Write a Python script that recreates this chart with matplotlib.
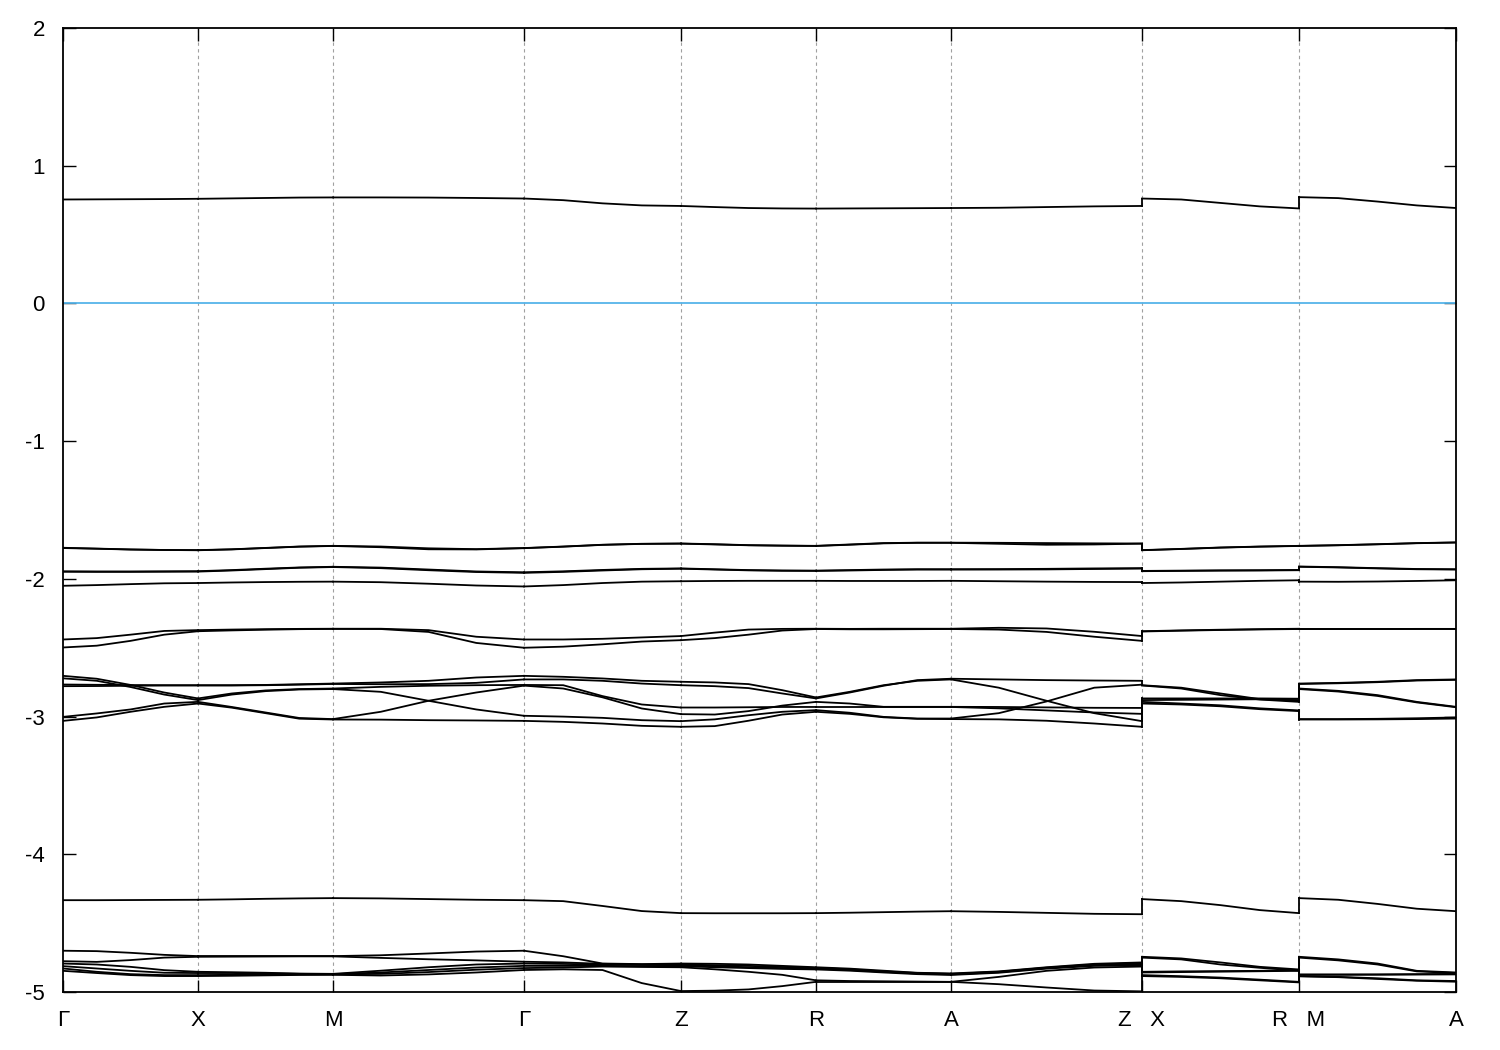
import numpy as np
import matplotlib
matplotlib.use("Agg")
import matplotlib.pyplot as plt

# ---------------- data ----------------
tick_labels = ["Γ", "X", "M", "Γ", "Z", "R", "A", "Z   X", "R   M", "A"]
segment_names = [("Γ", "X"), ("X", "M"), ("M", "Γ"), ("Γ", "Z"), ("Z", "R"),
                 ("R", "A"), ("A", "Z"), ("X", "R"), ("M", "A")]
segment_lengths = [1.0, 1.0, 1.41421, 1.163, 1.0, 1.0, 1.41421, 1.163, 1.163]
jump_nodes = [7, 8]          # Z|X and R|M discontinuities (segment index after the jump)
fermi_level = 0.0

# each segment: rows = bands, 5 samples along the segment (start .. end)
seg_GX = [
    [0.755, 0.756, 0.757, 0.758, 0.760],
    [-1.774, -1.780, -1.786, -1.790, -1.791],
    [-1.776, -1.781, -1.787, -1.790, -1.792],
    [-1.945, -1.946, -1.946, -1.945, -1.944],
    [-1.948, -1.949, -1.949, -1.948, -1.947],
    [-2.050, -2.045, -2.038, -2.032, -2.030],
    [-2.440, -2.430, -2.405, -2.378, -2.372],
    [-2.498, -2.485, -2.450, -2.405, -2.380],
    [-2.704, -2.725, -2.770, -2.825, -2.868],
    [-2.722, -2.740, -2.785, -2.840, -2.880],
    [-2.767, -2.769, -2.771, -2.772, -2.772],
    [-2.779, -2.778, -2.776, -2.774, -2.774],
    [-3.002, -2.977, -2.948, -2.905, -2.893],
    [-3.031, -3.006, -2.965, -2.929, -2.905],
    [-4.333, -4.333, -4.332, -4.331, -4.330],
    [-4.700, -4.703, -4.715, -4.730, -4.739],
    [-4.776, -4.781, -4.768, -4.750, -4.744],
    [-4.793, -4.800, -4.817, -4.841, -4.853],
    [-4.812, -4.829, -4.846, -4.860, -4.862],
    [-4.829, -4.853, -4.870, -4.877, -4.877],
    [-4.846, -4.862, -4.877, -4.884, -4.884],
]
seg_XM = [
    [0.760, 0.763, 0.766, 0.769, 0.770],
    [-1.791, -1.785, -1.775, -1.765, -1.760],
    [-1.792, -1.786, -1.776, -1.766, -1.761],
    [-1.944, -1.936, -1.926, -1.917, -1.912],
    [-1.947, -1.939, -1.929, -1.919, -1.914],
    [-2.030, -2.026, -2.023, -2.021, -2.020],
    [-2.372, -2.368, -2.365, -2.363, -2.362],
    [-2.380, -2.374, -2.369, -2.365, -2.363],
    [-2.868, -2.832, -2.810, -2.800, -2.796],
    [-2.880, -2.840, -2.815, -2.803, -2.800],
    [-2.772, -2.772, -2.770, -2.765, -2.760],
    [-2.774, -2.774, -2.772, -2.768, -2.763],
    [-2.893, -2.930, -2.970, -3.010, -3.018],
    [-2.905, -2.935, -2.975, -3.015, -3.021],
    [-4.330, -4.327, -4.323, -4.320, -4.318],
    [-4.739, -4.739, -4.739, -4.739, -4.739],
    [-4.744, -4.743, -4.742, -4.741, -4.741],
    [-4.853, -4.856, -4.860, -4.866, -4.868],
    [-4.862, -4.862, -4.865, -4.868, -4.870],
    [-4.877, -4.875, -4.873, -4.872, -4.872],
    [-4.884, -4.882, -4.879, -4.876, -4.875],
]
seg_MG = [
    [0.770, 0.770, 0.769, 0.766, 0.762],
    [-1.760, -1.765, -1.778, -1.784, -1.776],
    [-1.761, -1.770, -1.785, -1.786, -1.777],
    [-1.912, -1.918, -1.932, -1.946, -1.952],
    [-1.914, -1.922, -1.937, -1.950, -1.956],
    [-2.020, -2.024, -2.035, -2.048, -2.055],
    [-2.362, -2.362, -2.372, -2.420, -2.440],
    [-2.363, -2.364, -2.385, -2.465, -2.500],
    [-2.760, -2.752, -2.740, -2.716, -2.704],
    [-2.763, -2.765, -2.764, -2.755, -2.730],
    [-2.796, -2.784, -2.776, -2.772, -2.770],
    [-2.800, -2.820, -2.885, -2.948, -2.994],
    [-3.018, -2.965, -2.885, -2.825, -2.775],
    [-3.021, -3.022, -3.026, -3.028, -3.031],
    [-4.318, -4.320, -4.325, -4.330, -4.333],
    [-4.739, -4.733, -4.720, -4.706, -4.700],
    [-4.741, -4.752, -4.762, -4.770, -4.780],
    [-4.868, -4.845, -4.820, -4.800, -4.793],
    [-4.870, -4.858, -4.840, -4.822, -4.810],
    [-4.872, -4.868, -4.855, -4.838, -4.826],
    [-4.875, -4.880, -4.872, -4.858, -4.840],
]
seg_GZ = [
    [0.762, 0.750, 0.727, 0.712, 0.708],
    [-1.776, -1.765, -1.752, -1.745, -1.743],
    [-1.777, -1.766, -1.753, -1.746, -1.744],
    [-1.952, -1.945, -1.935, -1.927, -1.924],
    [-1.956, -1.949, -1.939, -1.930, -1.926],
    [-2.055, -2.045, -2.030, -2.020, -2.017],
    [-2.440, -2.440, -2.435, -2.425, -2.415],
    [-2.500, -2.492, -2.475, -2.455, -2.445],
    [-2.704, -2.711, -2.723, -2.740, -2.747],
    [-2.730, -2.730, -2.740, -2.760, -2.772],
    [-2.770, -2.772, -2.851, -2.912, -2.934],
    [-2.775, -2.796, -2.860, -2.941, -2.982],
    [-2.994, -3.000, -3.009, -3.026, -3.033],
    [-3.031, -3.038, -3.050, -3.067, -3.074],
    [-4.333, -4.340, -4.375, -4.412, -4.427],
    [-4.700, -4.740, -4.793, -4.797, -4.793],
    [-4.780, -4.785, -4.795, -4.800, -4.800],
    [-4.793, -4.796, -4.800, -4.803, -4.805],
    [-4.810, -4.810, -4.810, -4.812, -4.812],
    [-4.826, -4.822, -4.815, -4.818, -4.820],
    [-4.840, -4.835, -4.840, -4.935, -4.993],
]
seg_ZR = [
    [0.708, 0.700, 0.693, 0.690, 0.689],
    [-1.743, -1.748, -1.755, -1.758, -1.760],
    [-1.744, -1.750, -1.756, -1.759, -1.761],
    [-1.924, -1.930, -1.936, -1.939, -1.940],
    [-1.926, -1.932, -1.938, -1.941, -1.942],
    [-2.017, -2.015, -2.014, -2.014, -2.014],
    [-2.415, -2.390, -2.368, -2.363, -2.362],
    [-2.445, -2.430, -2.405, -2.375, -2.364],
    [-2.747, -2.752, -2.764, -2.808, -2.861],
    [-2.772, -2.779, -2.793, -2.832, -2.868],
    [-2.934, -2.934, -2.932, -2.930, -2.930],
    [-2.982, -2.985, -2.960, -2.920, -2.893],
    [-3.033, -3.020, -2.990, -2.965, -2.953],
    [-3.074, -3.069, -3.030, -2.985, -2.965],
    [-4.427, -4.428, -4.428, -4.428, -4.427],
    [-4.793, -4.795, -4.800, -4.810, -4.820],
    [-4.800, -4.805, -4.810, -4.818, -4.825],
    [-4.805, -4.812, -4.820, -4.826, -4.830],
    [-4.812, -4.820, -4.826, -4.832, -4.836],
    [-4.820, -4.835, -4.853, -4.875, -4.915],
    [-4.993, -4.990, -4.981, -4.957, -4.926],
]
seg_RA = [
    [0.689, 0.690, 0.691, 0.692, 0.693],
    [-1.760, -1.750, -1.740, -1.737, -1.737],
    [-1.761, -1.752, -1.742, -1.738, -1.738],
    [-1.940, -1.936, -1.932, -1.930, -1.930],
    [-1.942, -1.939, -1.935, -1.932, -1.932],
    [-2.014, -2.015, -2.015, -2.015, -2.014],
    [-2.362, -2.363, -2.362, -2.362, -2.362],
    [-2.364, -2.366, -2.366, -2.365, -2.364],
    [-2.861, -2.820, -2.772, -2.740, -2.730],
    [-2.868, -2.825, -2.776, -2.735, -2.725],
    [-2.893, -2.905, -2.929, -2.929, -2.929],
    [-2.930, -2.930, -2.930, -2.930, -2.930],
    [-2.953, -2.972, -3.002, -3.014, -3.014],
    [-2.965, -2.980, -3.005, -3.016, -3.018],
    [-4.427, -4.424, -4.420, -4.416, -4.413],
    [-4.820, -4.830, -4.845, -4.860, -4.865],
    [-4.825, -4.835, -4.850, -4.862, -4.868],
    [-4.830, -4.840, -4.853, -4.866, -4.872],
    [-4.836, -4.845, -4.858, -4.870, -4.876],
    [-4.915, -4.920, -4.922, -4.924, -4.926],
    [-4.926, -4.926, -4.926, -4.926, -4.926],
]
seg_AZ = [
    [0.693, 0.695, 0.700, 0.705, 0.708],
    [-1.737, -1.738, -1.740, -1.742, -1.743],
    [-1.738, -1.745, -1.752, -1.750, -1.744],
    [-1.930, -1.929, -1.927, -1.924, -1.922],
    [-1.932, -1.932, -1.931, -1.928, -1.925],
    [-2.014, -2.017, -2.020, -2.022, -2.023],
    [-2.362, -2.355, -2.360, -2.384, -2.415],
    [-2.364, -2.368, -2.385, -2.420, -2.450],
    [-2.725, -2.730, -2.735, -2.738, -2.740],
    [-2.730, -2.790, -2.885, -2.975, -3.033],
    [-2.929, -2.930, -2.933, -2.936, -2.937],
    [-2.930, -2.940, -2.955, -2.970, -2.980],
    [-3.014, -2.975, -2.890, -2.790, -2.768],
    [-3.018, -3.020, -3.030, -3.050, -3.074],
    [-4.413, -4.418, -4.425, -4.432, -4.435],
    [-4.865, -4.850, -4.820, -4.795, -4.785],
    [-4.868, -4.853, -4.823, -4.800, -4.790],
    [-4.872, -4.856, -4.826, -4.805, -4.800],
    [-4.876, -4.860, -4.830, -4.810, -4.805],
    [-4.926, -4.943, -4.967, -4.989, -4.995],
    [-4.926, -4.890, -4.846, -4.822, -4.815],
]
seg_XR = [
    [0.762, 0.755, 0.730, 0.705, 0.690],
    [-1.791, -1.782, -1.772, -1.765, -1.760],
    [-1.792, -1.783, -1.773, -1.766, -1.761],
    [-1.942, -1.940, -1.938, -1.937, -1.935],
    [-1.944, -1.942, -1.940, -1.939, -1.937],
    [-2.030, -2.026, -2.020, -2.014, -2.010],
    [-2.380, -2.374, -2.369, -2.365, -2.362],
    [-2.382, -2.376, -2.371, -2.367, -2.364],
    [-2.772, -2.790, -2.832, -2.873, -2.885],
    [-2.774, -2.796, -2.844, -2.876, -2.893],
    [-2.868, -2.868, -2.868, -2.868, -2.870],
    [-2.880, -2.878, -2.876, -2.874, -2.872],
    [-2.893, -2.905, -2.918, -2.940, -2.955],
    [-2.905, -2.912, -2.925, -2.946, -2.960],
    [-4.325, -4.340, -4.369, -4.405, -4.427],
    [-4.744, -4.756, -4.785, -4.817, -4.836],
    [-4.750, -4.763, -4.800, -4.824, -4.845],
    [-4.853, -4.850, -4.848, -4.846, -4.841],
    [-4.858, -4.855, -4.852, -4.849, -4.846],
    [-4.877, -4.885, -4.895, -4.910, -4.926],
    [-4.884, -4.890, -4.900, -4.915, -4.930],
]
seg_MA = [
    [0.772, 0.765, 0.740, 0.712, 0.693],
    [-1.760, -1.755, -1.748, -1.740, -1.735],
    [-1.761, -1.756, -1.749, -1.741, -1.736],
    [-1.910, -1.915, -1.922, -1.928, -1.930],
    [-1.912, -1.917, -1.924, -1.930, -1.932],
    [-2.020, -2.021, -2.019, -2.015, -2.010],
    [-2.362, -2.362, -2.362, -2.362, -2.362],
    [-2.364, -2.364, -2.364, -2.363, -2.363],
    [-2.760, -2.755, -2.747, -2.735, -2.730],
    [-2.763, -2.758, -2.750, -2.738, -2.733],
    [-2.796, -2.813, -2.844, -2.893, -2.929],
    [-2.800, -2.818, -2.850, -2.897, -2.932],
    [-3.018, -3.018, -3.016, -3.012, -3.006],
    [-3.021, -3.021, -3.020, -3.018, -3.014],
    [-4.318, -4.330, -4.360, -4.395, -4.413],
    [-4.744, -4.763, -4.793, -4.846, -4.858],
    [-4.750, -4.770, -4.800, -4.850, -4.862],
    [-4.872, -4.872, -4.872, -4.870, -4.868],
    [-4.875, -4.875, -4.874, -4.873, -4.872],
    [-4.884, -4.890, -4.900, -4.915, -4.920],
    [-4.886, -4.892, -4.905, -4.918, -4.925],
]
segments = [seg_GX, seg_XM, seg_MG, seg_GZ, seg_ZR, seg_RA, seg_AZ, seg_XR, seg_MA]

# ---------------- plot ----------------
plt.rcParams['font.family'] = ['Liberation Sans', 'DejaVu Sans']
fig = plt.figure(figsize=(15, 10.5), dpi=100)
ax = fig.add_axes([0.042, 0.0552, 0.9287, 0.9181])

node_pos = np.concatenate([[0.0], np.cumsum(segment_lengths)])

# grid lines at interior high-symmetry points
for xp in node_pos[1:-1]:
    ax.axvline(xp, color='#a0a0a0', lw=0.8, ls=(0, (3, 3)), zorder=1)

ax.axhline(fermi_level, color='#56b4e9', lw=1.3, zorder=2)

for i, seg in enumerate(segments):
    vals = np.array(seg)
    kx = np.linspace(node_pos[i], node_pos[i + 1], vals.shape[1])
    for row in vals:
        ax.plot(kx, row, color='black', lw=1.3, zorder=3)

# vertical connectors at discontinuities
for j in jump_nodes:
    before = np.sort(np.array(segments[j - 1])[:, -1])
    after = np.sort(np.array(segments[j])[:, 0])
    for a, b in zip(before, after):
        ax.plot([node_pos[j], node_pos[j]], [a, b], color='black', lw=1.3, zorder=3)

ax.set_xlim(node_pos[0], node_pos[-1])
ax.set_ylim(-5, 2)
ax.set_xticks(node_pos)
ax.set_xticklabels(tick_labels)
ax.set_yticks(np.arange(-5, 3, 1))
ax.set_yticklabels([str(v) for v in range(-5, 3)])
ax.tick_params(axis='both', direction='in', length=9, width=1.0, labelsize=16,
               top=True, right=True, color='black')
ax.tick_params(axis='y', pad=13)
ax.tick_params(axis='x', pad=13)
for sp in ax.spines.values():
    sp.set_linewidth(1.3)
    sp.set_zorder(5)

fig.savefig('out.png', dpi=100)
